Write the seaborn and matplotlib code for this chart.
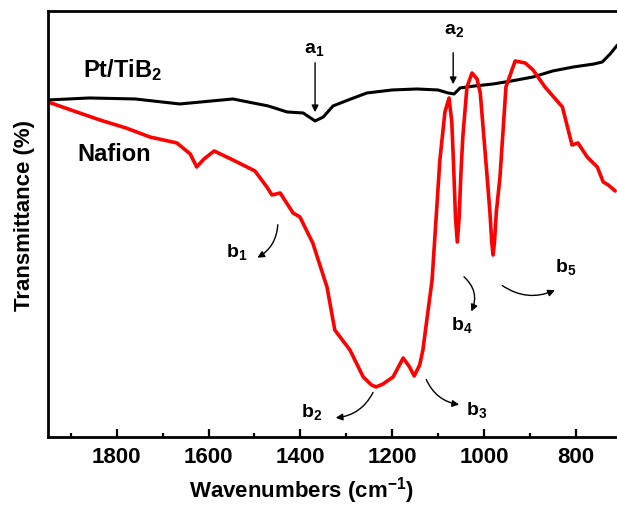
import numpy as np
import pandas as pd
import seaborn as sns
import matplotlib
matplotlib.use("Agg")
import matplotlib.pyplot as plt
from matplotlib.ticker import MultipleLocator

# Pt/TiB2 spectrum (wavenumber, transmittance a.u.)
pt_wn = [1950, 1860, 1760, 1663, 1547, 1470, 1429, 1394, 1368, 1350, 1329, 1290,
         1255, 1200, 1146, 1100, 1078, 1065, 1052, 1020, 980, 940, 893, 850, 805, 760, 742, 725, 709]
pt_tr = [337, 339, 338, 333, 338, 331, 325, 324, 316, 320, 331, 338,
         344, 347, 348, 347, 344, 343, 349, 351, 353, 356, 360, 366, 370, 373, 375, 383, 392]

# Nafion spectrum
naf_wn = [1950, 1900, 1837, 1780, 1728, 1669, 1640, 1626, 1610, 1588, 1547, 1499, 1473,
          1462, 1444, 1416, 1401, 1373, 1342, 1325, 1292, 1263, 1245, 1235, 1220, 1198,
          1176, 1162, 1152, 1140, 1133, 1113, 1096, 1085, 1076, 1070, 1066, 1062, 1058,
          1054, 1050, 1046, 1037, 1026, 1015, 1008, 993, 987, 983, 980, 977, 973, 965,
          952, 932, 910, 893, 867, 829, 808, 795, 775, 753, 740, 729, 714]
naf_tr = [335, 327, 317, 309, 300, 294, 283, 270, 278, 286, 277, 266, 250,
          242, 244, 224, 220, 194, 150, 107, 87, 60, 52, 50, 53, 60,
          79, 70, 61, 72, 87, 157, 277, 325, 339, 315, 270, 220, 195,
          220, 265, 300, 350, 364, 358, 344, 260, 225, 195, 182, 195, 225, 260,
          350, 376, 374, 367, 350, 330, 292, 294, 280, 270, 255, 252, 246]

pt = pd.DataFrame({"wn": pt_wn, "tr": pt_tr})
naf = pd.DataFrame({"wn": naf_wn, "tr": naf_tr})

sns.set_style("ticks")
plt.rcParams["font.family"] = ["Liberation Sans", "DejaVu Sans"]
plt.rcParams["font.weight"] = "bold"
plt.rcParams["text.color"] = "k"
plt.rcParams["axes.labelcolor"] = "k"
plt.rcParams["xtick.color"] = "k"
plt.rcParams["axes.edgecolor"] = "k"
plt.rcParams["mathtext.fontset"] = "custom"
plt.rcParams["mathtext.rm"] = "Liberation Sans:bold"
plt.rcParams["mathtext.bf"] = "Liberation Sans:bold"
plt.rcParams["mathtext.it"] = "Liberation Sans:bold"
plt.rcParams["mathtext.default"] = "bf"

fig = plt.figure(figsize=(6.17, 5.08), dpi=100, facecolor="w")
ax = fig.add_axes([0.0778, 0.1398, 0.9222, 0.8386])

sns.lineplot(data=pt, x="wn", y="tr", color="k", lw=2.2, estimator=None, sort=False, ax=ax)
sns.lineplot(data=naf, x="wn", y="tr", color="#ff0000", lw=2.6, estimator=None, sort=False, ax=ax)

ax.set_xlim(1950, 710)
ax.set_ylim(0, 426)
ax.xaxis.set_major_locator(MultipleLocator(200))
ax.xaxis.set_minor_locator(MultipleLocator(100))
ax.tick_params(axis="x", which="major", direction="in", length=6, width=1.6,
               labelsize=16, pad=7)
ax.tick_params(axis="x", which="minor", direction="in", length=3, width=1.6)
ax.set_yticks([])
for lab in ax.get_xticklabels():
    lab.set_fontweight("bold")
ax.spines["right"].set_visible(False)
for s in ["left", "bottom", "top"]:
    ax.spines[s].set_linewidth(2.0)

ax.set_xlabel(r"Wavenumbers (cm$^{-1}$)", fontsize=16, fontweight="bold", labelpad=5)
ax.xaxis.set_label_coords(0.446, -0.09)
ax.set_ylabel("Transmittance (%)", fontsize=16, fontweight="bold", labelpad=10)
ax.yaxis.set_label_coords(-0.022, 0.52)

ax.text(1874, 367, r"Pt/TiB$_2$", fontsize=17, fontweight="bold", ha="left", va="center")
ax.text(1887, 282, "Nafion", fontsize=17, fontweight="bold", ha="left", va="center")

# vertical arrows for Pt/TiB2
ax.text(1370, 387, r"a$_1$", fontsize=14, ha="center", va="center")
ax.annotate("", xy=(1368, 322), xytext=(1368, 377),
            arrowprops=dict(arrowstyle="-|>", color="k", lw=1.0, mutation_scale=10))
ax.text(1065, 406, r"a$_2$", fontsize=14, ha="center", va="center")
ax.annotate("", xy=(1067, 350), xytext=(1067, 387),
            arrowprops=dict(arrowstyle="-|>", color="k", lw=1.0, mutation_scale=10))

# curved arrows for Nafion bands
b_labels = [r"b$_1$", r"b$_2$", r"b$_3$", r"b$_4$", r"b$_5$"]
b_text = [(1538, 185), (1375, 25), (1017, 27), (1048, 112), (821, 170)]
b_start = [(1449, 215), (1239, 47), (1128, 60), (1048, 162), (965, 153)]
b_end = [(1499, 178), (1329, 19), (1048, 32), (1030, 123), (840, 148)]
b_rad = [-0.3, -0.3, 0.3, -0.4, 0.3]
for lab, t, s, e, r in zip(b_labels, b_text, b_start, b_end, b_rad):
    ax.text(t[0], t[1], lab, fontsize=14, ha="center", va="center")
    ax.annotate("", xy=e, xytext=s,
                arrowprops=dict(arrowstyle="-|>", color="k", lw=1.0, mutation_scale=10,
                                connectionstyle="arc3,rad=%s" % r))

fig.savefig("out.png", dpi=100)
